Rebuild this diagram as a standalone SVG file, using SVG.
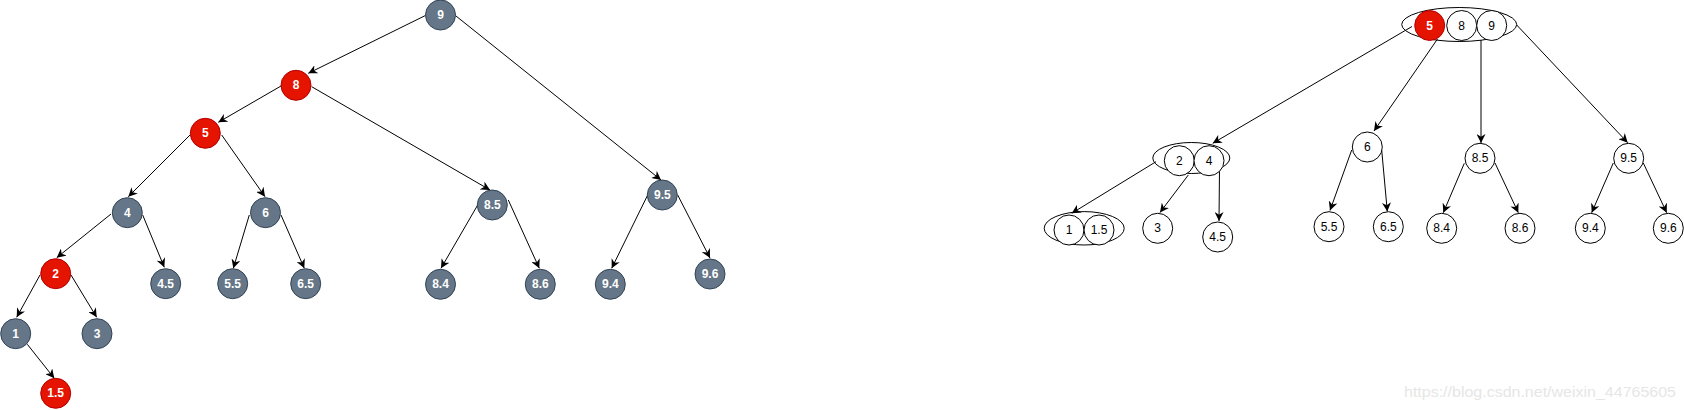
<svg xmlns="http://www.w3.org/2000/svg" width="1684" height="410" viewBox="0 0 1684 410">
<style>
.g{fill:#647687;stroke:#314354;stroke-width:1}
.r{fill:#e51400;stroke:#b20000;stroke-width:1}
.w{fill:#ffffff;stroke:#000000;stroke-width:1}
.o{fill:none;stroke:#000000;stroke-width:1}
.tb{font-family:"Liberation Sans",Arial,sans-serif;font-size:12px;font-weight:bold;fill:#ffffff;text-anchor:middle;dominant-baseline:central}
.tn{font-family:"Liberation Sans",Arial,sans-serif;font-size:12px;fill:#000000;text-anchor:middle;dominant-baseline:central}
.e{stroke:#000000;stroke-width:1;fill:none;marker-end:url(#arr)}
.wm{font-family:"Liberation Sans",Arial,sans-serif;font-size:15px;fill:#e6e6e6}
</style>
<defs>
<marker id="arr" viewBox="0 0 10 10" refX="10" refY="5" markerWidth="9" markerHeight="9" markerUnits="userSpaceOnUse" orient="auto">
<path d="M0,0 L10,5 L0,10 L3,5 Z" fill="#000000"/>
</marker>
</defs>
<rect width="1684" height="410" fill="#ffffff"/>
<g id="connectors">
<line class="e" x1="425" y1="15.7" x2="308.3" y2="73.3"/>
<line class="e" x1="281" y1="86" x2="218.3" y2="122.3"/>
<line class="e" x1="311.7" y1="86.7" x2="490" y2="190"/>
<line class="e" x1="456" y1="16" x2="661" y2="180"/>
<line class="e" x1="190" y1="135" x2="128.3" y2="196.7"/>
<line class="e" x1="221.7" y1="135" x2="265" y2="196.7"/>
<line class="e" x1="111" y1="214" x2="56.7" y2="257.7"/>
<line class="e" x1="142.7" y1="215" x2="164.3" y2="267.3"/>
<line class="e" x1="249.3" y1="215" x2="233.3" y2="268.3"/>
<line class="e" x1="281" y1="215" x2="304.3" y2="268.3"/>
<line class="e" x1="40" y1="275" x2="16.7" y2="317.3"/>
<line class="e" x1="71" y1="275" x2="96.7" y2="317.3"/>
<line class="e" x1="27.3" y1="344.3" x2="54.3" y2="378.3"/>
<line class="e" x1="477.7" y1="205" x2="441" y2="268.3"/>
<line class="e" x1="508.3" y1="200" x2="539.3" y2="268.3"/>
<line class="e" x1="647.7" y1="195" x2="611.7" y2="268.3"/>
<line class="e" x1="677.7" y1="195" x2="710" y2="258"/>
<line class="e" x1="1412" y1="26.5" x2="1212.7" y2="143.3"/>
<line class="e" x1="1437.5" y1="39" x2="1374" y2="131"/>
<line class="e" x1="1481" y1="40" x2="1481" y2="143"/>
<line class="e" x1="1516.7" y1="25" x2="1627.7" y2="142.7"/>
<line class="e" x1="1351.7" y1="150" x2="1330" y2="210.5"/>
<line class="e" x1="1381.7" y1="150" x2="1387.3" y2="211.5"/>
<line class="e" x1="1464.3" y1="163.3" x2="1443.3" y2="212.7"/>
<line class="e" x1="1495" y1="163" x2="1518.3" y2="212.7"/>
<line class="e" x1="1613.3" y1="163" x2="1591.7" y2="212.7"/>
<line class="e" x1="1643.3" y1="163" x2="1666.7" y2="212.7"/>
<line class="e" x1="1156" y1="161.7" x2="1071.7" y2="213.3"/>
<line class="e" x1="1188.3" y1="175" x2="1160" y2="212.5"/>
<line class="e" x1="1219.5" y1="168" x2="1219" y2="221"/>
</g>
<g id="n9"><circle class="g" cx="440.5" cy="15" r="15"/><text class="tb" x="440.5" y="15">9</text></g>
<g id="n8"><circle class="r" cx="296" cy="85.3" r="15"/><text class="tb" x="296" y="85.3">8</text></g>
<g id="n5"><circle class="r" cx="205.3" cy="133.3" r="15"/><text class="tb" x="205.3" y="133.3">5</text></g>
<g id="n4"><circle class="g" cx="127.3" cy="212.7" r="15"/><text class="tb" x="127.3" y="212.7">4</text></g>
<g id="n6"><circle class="g" cx="265.5" cy="212.7" r="15"/><text class="tb" x="265.5" y="212.7">6</text></g>
<g id="n2"><circle class="r" cx="55.7" cy="273.7" r="15"/><text class="tb" x="55.7" y="273.7">2</text></g>
<g id="n4_5"><circle class="g" cx="165.7" cy="283.7" r="15"/><text class="tb" x="165.7" y="283.7">4.5</text></g>
<g id="n5_5"><circle class="g" cx="232.7" cy="283.7" r="15"/><text class="tb" x="232.7" y="283.7">5.5</text></g>
<g id="n6_5"><circle class="g" cx="305.7" cy="283.7" r="15"/><text class="tb" x="305.7" y="283.7">6.5</text></g>
<g id="n1"><circle class="g" cx="15.7" cy="333.7" r="15"/><text class="tb" x="15.7" y="333.7">1</text></g>
<g id="n3"><circle class="g" cx="97" cy="333.7" r="15"/><text class="tb" x="97" y="333.7">3</text></g>
<g id="n1_5"><circle class="r" cx="55.7" cy="393.3" r="15"/><text class="tb" x="55.7" y="393.3">1.5</text></g>
<g id="n8_5"><circle class="g" cx="492.3" cy="205" r="15"/><text class="tb" x="492.3" y="205">8.5</text></g>
<g id="n9_5"><circle class="g" cx="662.3" cy="195" r="15"/><text class="tb" x="662.3" y="195">9.5</text></g>
<g id="n8_4"><circle class="g" cx="440.5" cy="284.3" r="15"/><text class="tb" x="440.5" y="284.3">8.4</text></g>
<g id="n8_6"><circle class="g" cx="540.3" cy="284.3" r="15"/><text class="tb" x="540.3" y="284.3">8.6</text></g>
<g id="n9_4"><circle class="g" cx="610.3" cy="284.3" r="15"/><text class="tb" x="610.3" y="284.3">9.4</text></g>
<g id="n9_6"><circle class="g" cx="710" cy="274" r="15"/><text class="tb" x="710" y="274">9.6</text></g>
<g id="b_589">
<ellipse class="o" cx="1459.2" cy="24.5" rx="57.5" ry="17"/>
<circle class="r" cx="1429.7" cy="25.5" r="15"/><text class="tb" x="1429.7" y="25.5">5</text>
<circle class="w" cx="1461.7" cy="25.5" r="15"/><text class="tn" x="1461.7" y="25.5">8</text>
<circle class="w" cx="1491.7" cy="25.5" r="15"/><text class="tn" x="1491.7" y="25.5">9</text>
</g>
<g id="b_24">
<ellipse class="o" cx="1191.3" cy="158" rx="38.5" ry="15.5"/>
<circle class="w" cx="1179.3" cy="160.7" r="15"/><text class="tn" x="1179.3" y="160.7">2</text>
<circle class="w" cx="1209" cy="160.7" r="15"/><text class="tn" x="1209" y="160.7">4</text>
</g>
<g id="b_1_15">
<ellipse class="o" cx="1084.2" cy="228.3" rx="40" ry="16.7"/>
<circle class="w" cx="1069" cy="230" r="15"/><text class="tn" x="1069" y="230">1</text>
<circle class="w" cx="1099" cy="230" r="15"/><text class="tn" x="1099" y="230">1.5</text>
</g>
<g id="b_3"><circle class="w" cx="1157.7" cy="228.3" r="15"/><text class="tn" x="1157.7" y="228.3">3</text></g>
<g id="b_4_5"><circle class="w" cx="1217.7" cy="237" r="15"/><text class="tn" x="1217.7" y="237">4.5</text></g>
<g id="b_6"><circle class="w" cx="1367.3" cy="147" r="15"/><text class="tn" x="1367.3" y="147">6</text></g>
<g id="b_5_5"><circle class="w" cx="1329" cy="226.7" r="15"/><text class="tn" x="1329" y="226.7">5.5</text></g>
<g id="b_6_5"><circle class="w" cx="1388.3" cy="226.7" r="15"/><text class="tn" x="1388.3" y="226.7">6.5</text></g>
<g id="b_8_5"><circle class="w" cx="1480" cy="158.3" r="15"/><text class="tn" x="1480" y="158.3">8.5</text></g>
<g id="b_8_4"><circle class="w" cx="1441.7" cy="228.3" r="15"/><text class="tn" x="1441.7" y="228.3">8.4</text></g>
<g id="b_8_6"><circle class="w" cx="1520" cy="228.3" r="15"/><text class="tn" x="1520" y="228.3">8.6</text></g>
<g id="b_9_5"><circle class="w" cx="1628.7" cy="158.3" r="15"/><text class="tn" x="1628.7" y="158.3">9.5</text></g>
<g id="b_9_4"><circle class="w" cx="1590.3" cy="228.3" r="15"/><text class="tn" x="1590.3" y="228.3">9.4</text></g>
<g id="b_9_6"><circle class="w" cx="1668.3" cy="228.3" r="15"/><text class="tn" x="1668.3" y="228.3">9.6</text></g>
<text class="wm" x="1404" y="397" textLength="272" lengthAdjust="spacingAndGlyphs">https://blog.csdn.net/weixin_44765605</text>
</svg>
